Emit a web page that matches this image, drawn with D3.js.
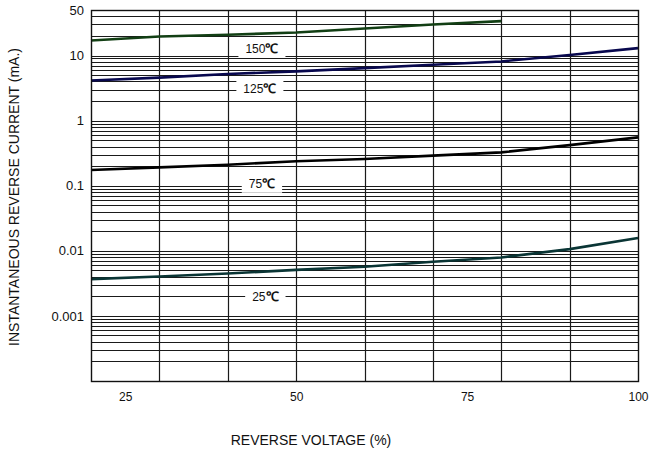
<!DOCTYPE html>
<html>
<head>
<meta charset="utf-8">
<script src="https://cdn.jsdelivr.net/npm/d3@7"></script>
<style>
  html, body { margin: 0; padding: 0; background: #fff; }
  svg { display: block; }
  text { font-family: "Liberation Sans", Arial, sans-serif; fill: #111; }
</style>
</head>
<body>
<div id="chart"></div>
<script>
// ---- data ----
const voltage = [20, 30, 40, 50, 60, 70, 80, 90, 100];
const current150 = [17, 19.6, 20.8, 22.6, 26, 30, 33.7];
const current125 = [4.12, 4.57, 5.2, 5.7, 6.4, 7.2, 8.1, 10.2, 13];
const current75 = [0.174, 0.191, 0.21, 0.237, 0.257, 0.29, 0.325, 0.42, 0.553];
const current25 = [0.00367, 0.00403, 0.00448, 0.0051, 0.00568, 0.00678, 0.0079, 0.0106, 0.0157];
const seriesTemps = ["150", "125", "75", "25"];
const labelVoltage = [45.0, 44.7, 45.0, 45.5];
const labelCurrent = [12.8, 3.1, 0.107, 0.00196];
const xTickValues = [25, 50, 75, 100];
const xGridValues = [20, 30, 40, 50, 60, 70, 80, 90, 100];
const yTickValues = [50, 10, 1, 0.1, 0.01, 0.001];
const yTickLabels = ["50", "10", "1", "0.1", "0.01", "0.001"];

const W = 650, H = 457;
const margin = { top: 10, right: 12, bottom: 76, left: 91 };
const iw = W - margin.left - margin.right;
const ih = H - margin.top - margin.bottom;

const x = d3.scaleLinear().domain([20, 100]).range([0, iw]);
const y = d3.scaleLog().domain([0.0001, 50]).range([ih, 0]);

const svg = d3.select("#chart").append("svg").attr("width", W).attr("height", H);
const g = svg.append("g").attr("transform", `translate(${margin.left},${margin.top})`);

// horizontal log grid
const yGrid = y.ticks().filter(v => v > 0.0001 && v < 50).concat([20, 30, 40]);
g.append("g").selectAll("line").data(yGrid).join("line")
  .attr("x1", 0).attr("x2", iw)
  .attr("y1", d => Math.round(y(d)) + 0.5).attr("y2", d => Math.round(y(d)) + 0.5)
  .attr("stroke", "#1a1a1a").attr("stroke-width", 1.2);

// vertical grid
g.append("g").selectAll("line").data(xGridValues.slice(1, -1)).join("line")
  .attr("x1", d => Math.round(x(d)) + 0.5).attr("x2", d => Math.round(x(d)) + 0.5)
  .attr("y1", 0).attr("y2", ih)
  .attr("stroke", "#1a1a1a").attr("stroke-width", 1.2);

// curves
const series = [
  { vals: current150, color: "#123f14" },
  { vals: current125, color: "#08084e" },
  { vals: current75, color: "#000000" },
  { vals: current25, color: "#0a3535" }
];
const line = d3.line().x(d => x(d[0])).y(d => y(d[1]));
series.forEach(s => {
  const pts = s.vals.map((v, i) => [voltage[i], v]);
  g.append("path").attr("d", line(pts)).attr("fill", "none")
    .attr("stroke", s.color).attr("stroke-width", 2.6);
});

// temperature labels with white boxes
seriesTemps.forEach((name, i) => {
  const cx = x(labelVoltage[i]), cy = y(labelCurrent[i]);
  const lg = g.append("g").attr("transform", `translate(${cx},${cy})`);
  const t = lg.append("text").attr("text-anchor", "middle").attr("dy", "0.35em")
    .style("font-size", "12px");
  t.append("tspan").text(name);
  t.append("tspan").style("font-weight", "bold").style("font-size", "13px").text("℃");
  const bb = t.node().getBBox();
  lg.insert("rect", "text").attr("x", bb.x - 7).attr("y", -9).attr("width", bb.width + 14).attr("height", 18)
    .attr("fill", "#fff");
});

// frame
g.append("rect").attr("x", 0.5).attr("y", 0.5).attr("width", iw).attr("height", ih)
  .attr("fill", "none").attr("stroke", "#111").attr("stroke-width", 1.4);

// axes
const xAxis = d3.axisBottom(x).tickValues(xTickValues).tickSize(0).tickPadding(11).tickFormat(d3.format("d"));
const xa = g.append("g").attr("transform", `translate(0,${ih})`).call(xAxis);
xa.select(".domain").remove();
xa.selectAll("text").style("font-size", "12px").style("font-family", "Liberation Sans, Arial, sans-serif").attr("fill", "#111");

const yAxis = d3.axisLeft(y).tickValues(yTickValues).tickSize(0).tickPadding(7)
  .tickFormat((d, i) => yTickLabels[i]);
const ya = g.append("g").call(yAxis);
ya.select(".domain").remove();
ya.selectAll("text").style("font-size", "13px").style("font-family", "Liberation Sans, Arial, sans-serif").attr("fill", "#111");

// titles
svg.append("text").attr("x", 311).attr("y", 445).attr("text-anchor", "middle")
  .style("font-size", "14px").text("REVERSE VOLTAGE (%)");
svg.append("text").attr("transform", "translate(19,197) rotate(-90)").attr("text-anchor", "middle")
  .style("font-size", "14px").text("INSTANTANEOUS REVERSE CURRENT (mA.)");
</script>
</body>
</html>
